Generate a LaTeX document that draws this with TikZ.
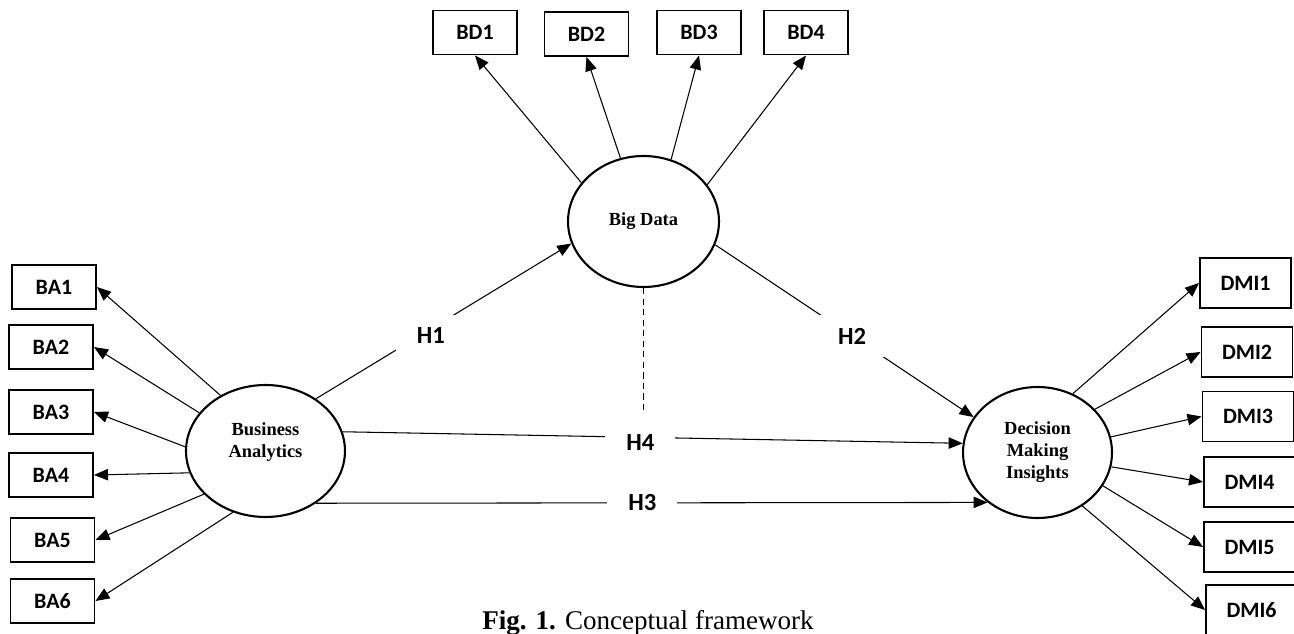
\documentclass[tikz,border=0pt]{standalone}
\usepackage{fontspec}
\setmainfont{Liberation Serif}
\newfontfamily\calib{Carlito}
\usetikzlibrary{shapes.geometric,arrows.meta}

\begin{document}
\begin{tikzpicture}[x=0.02cm,y=-0.02cm,
  ind/.style={draw,line width=1.1pt,minimum width=1.68cm,minimum height=0.88cm,inner sep=0pt,font=\calib\fontsize{12.5}{14}\selectfont\bfseries},
  dmibox/.style={ind,minimum width=1.82cm,minimum height=1cm},
  lat/.style={ellipse,draw,line width=1.2pt,inner sep=0pt,align=center,font=\fontsize{10.5}{12.5}\selectfont\bfseries},
  ld/.style={line width=0.6pt,-{Triangle[length=8pt,width=6.5pt]}},
  hyp/.style={fill=white,inner xsep=0.42cm,inner ysep=0.26cm,font=\calib\fontsize{14}{16}\selectfont\bfseries}]
\useasboundingbox (0,0) rectangle (1294,634);

% constructs
\node[lat,minimum width=3.18cm,minimum height=2.64cm] (ba) at (265.5,451) {Business\\Analytics\\\mbox{}};
\node[lat,minimum width=3.02cm,minimum height=2.62cm] (bd) at (643.5,221.5) {Big Data};
\node[lat,minimum width=2.98cm,minimum height=2.62cm] (dmi) at (1037.5,452.5) {Decision\\Making\\Insights};

% indicators
\node[ind] (ba1) at (54,287) {BA1};
\node[ind] (ba2) at (51,347) {BA2};
\node[ind] (ba3) at (51,412) {BA3};
\node[ind] (ba4) at (51,475) {BA4};
\node[ind] (ba5) at (52.5,540) {BA5};
\node[ind] (ba6) at (52.5,601) {BA6};

\node[ind] (bd1) at (475,32.5) {BD1};
\node[ind] (bd2) at (586.5,34) {BD2};
\node[ind] (bd3) at (699,32.5) {BD3};
\node[ind] (bd4) at (806,32.5) {BD4};

\node[dmibox] (dmi1) at (1245.5,283) {DMI1};
\node[dmibox] (dmi2) at (1247,352) {DMI2};
\node[dmibox] (dmi3) at (1248,416.5) {DMI3};
\node[dmibox] (dmi4) at (1249.5,482) {DMI4};
\node[dmibox] (dmi5) at (1249.5,547) {DMI5};
\node[dmibox] (dmi6) at (1251.5,610) {DMI6};

% loadings
\draw[ld] (ba.129) -- (ba1.east);
\draw[ld] (ba.150) -- (ba2.east);
\draw[ld] (ba.177) -- (ba3.east);
\draw[ld] (ba.196) -- (ba4.east);
\draw[ld] (ba.215) -- (ba5.east);
\draw[ld] (ba.242) -- (ba6.east);

\draw[ld] (bd.148) -- (bd1.south);
\draw[ld] (bd.110) -- (bd2.south);
\draw[ld] (bd.66) -- (bd3.south);
\draw[ld] (bd.30) -- (bd4.south);

\draw[ld] (dmi.59) -- (dmi1.west);
\draw[ld] (dmi.37) -- (dmi2.west);
\draw[ld] (dmi.12) -- (dmi3.west);
\draw[ld] (dmi.-11) -- (dmi4.west);
\draw[ld] (dmi.-27) -- (dmi5.west);
\draw[ld] (dmi.-50) -- (dmi6.west);

% hypotheses
\draw[ld] (ba.46) -- node[hyp,pos=0.45,yshift=-4pt] (h1) {H1} (bd.197);
\draw[ld] (bd.-18) -- node[hyp,pos=0.53] (h2) {H2} (dmi.151);
\draw[ld] (ba.14) -- node[hyp,pos=0.48,yshift=-3pt] (h4) {H4} (dmi.173);
\draw[ld] (ba.-46) -- node[hyp,pos=0.486] (h3) {H3} (dmi.225);
\draw[dashed,line width=0.6pt,dash pattern=on 3.5pt off 2.5pt,shorten >=4pt] (bd.south) -- (bd.south |- h4.north);

\node[anchor=base,font=\fontsize{15.4}{18}\selectfont] (cap) at (648,629) {\textbf{Fig. 1.} Conceptual framework};
\end{tikzpicture}
\end{document}
